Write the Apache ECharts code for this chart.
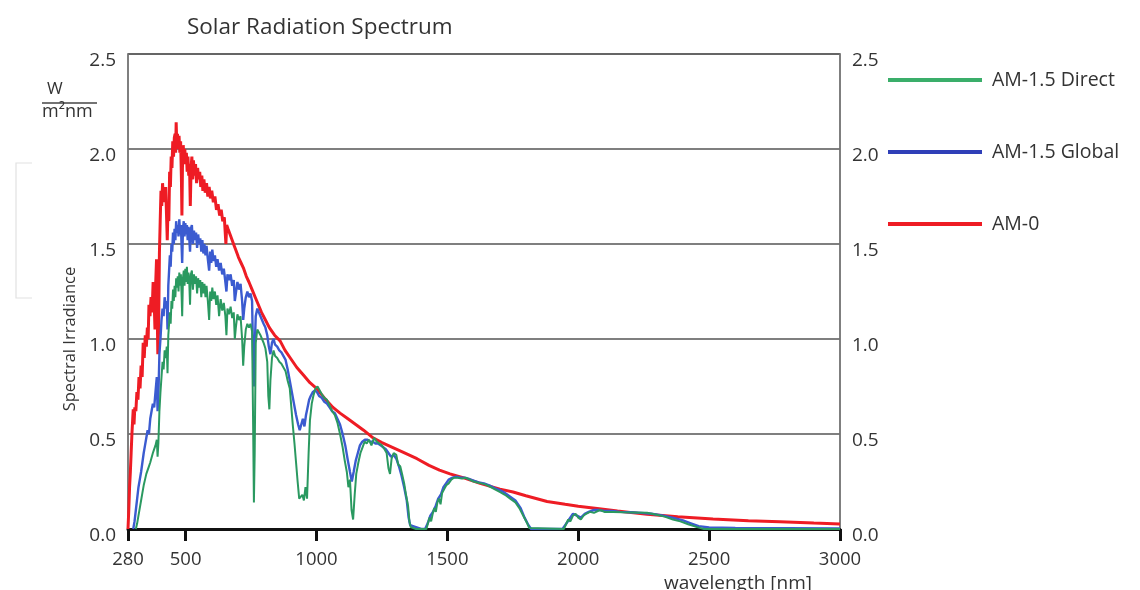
<!DOCTYPE html>
<html>
<head>
<meta charset="utf-8">
<script src="https://cdn.jsdelivr.net/npm/echarts@6/dist/echarts.min.js"></script>
<style>
html,body{margin:0;padding:0;background:#fff;}
#chart{width:1140px;height:590px;}
</style>
</head>
<body>
<div id="chart"></div>
<script>
// ---- data (wavelength nm, spectral irradiance W/m²nm) ----
const xTicks = [280, 500, 1000, 1500, 2000, 2500, 3000];
const seriesNames = ['AM-1.5 Direct', 'AM-1.5 Global', 'AM-0'];

const am0 = [
[280,0.00],[283,0.10],[286,0.22],[289,0.30],[292,0.40],[295,0.50],[298,0.58],[300,0.63],[303,0.55],[306,0.64],
[310,0.62],[314,0.72],[318,0.68],[322,0.80],[326,0.74],[330,0.86],[334,0.80],[338,0.98],[342,0.90],[346,1.02],
[350,0.96],[354,1.06],[357,1.00],[360,1.18],[364,1.12],[368,1.22],[372,1.14],[376,1.30],[380,1.20],[383,1.05],
[386,1.30],[389,1.42],[392,1.10],[394,0.92],[397,1.05],[400,1.45],[403,1.62],[406,1.78],[409,1.70],[412,1.82],
[415,1.74],[418,1.80],[421,1.72],[424,1.80],[427,1.66],[430,1.52],[433,1.70],[436,1.62],[439,1.88],[442,1.80],
[445,1.96],[448,1.90],[451,2.04],[454,1.96],[457,2.06],[460,2.08],[462,1.98],[464,2.14],[466,2.04],[469,2.08],
[472,2.00],[475,2.07],[478,1.98],[481,2.04],[484,1.85],[486,1.65],[488,1.90],[491,2.02],[494,1.94],[497,2.00],
[500,1.92],[503,1.98],[506,1.88],[509,1.96],[512,1.86],[515,1.92],[518,1.70],[521,1.90],[524,1.96],[527,1.84],
[530,1.94],[534,1.86],[538,1.92],[542,1.82],[546,1.90],[550,1.84],[554,1.88],[558,1.80],[562,1.86],[566,1.78],
[570,1.84],[575,1.77],[580,1.82],[585,1.75],[590,1.80],[595,1.74],[600,1.78],[606,1.72],[612,1.75],[618,1.68],
[624,1.71],[630,1.65],[636,1.68],[642,1.62],[648,1.64],[654,1.50],[657,1.60],[662,1.58],[670,1.55],[678,1.52],
[686,1.49],[694,1.46],[702,1.43],[712,1.40],[722,1.37],[732,1.33],[742,1.30],[754,1.26],[766,1.22],[778,1.18],
[790,1.14],[805,1.10],[820,1.06],[840,1.02],[861,0.99],[880,0.94],[900,0.90],[925,0.85],[950,0.81],[975,0.77],
[1000,0.74],[1030,0.69],[1063,0.64],[1090,0.61],[1120,0.58],[1150,0.55],[1180,0.52],[1216,0.48],[1250,0.455],
[1290,0.43],[1330,0.405],[1384,0.37],[1430,0.335],[1470,0.31],[1510,0.29],[1560,0.27],[1625,0.24],[1701,0.21],
[1751,0.195],[1800,0.175],[1881,0.145],[1950,0.13],[2000,0.12],[2072,0.108],[2150,0.095],[2263,0.077],
[2380,0.064],[2515,0.053],[2650,0.044],[2771,0.038],[2900,0.031],[3000,0.026]
];

const am15Global = [
[300,0.00],[305,0.04],[310,0.10],[315,0.16],[320,0.22],[325,0.26],[330,0.30],[335,0.35],[340,0.40],[345,0.44],
[350,0.48],[355,0.52],[360,0.50],[365,0.58],[370,0.62],[375,0.66],[380,0.64],[385,0.72],[390,0.80],[393,0.62],
[396,0.70],[400,0.92],[404,1.00],[408,1.10],[412,1.16],[416,1.12],[420,1.22],[424,1.16],[428,1.20],[431,1.05],
[434,1.28],[437,1.36],[440,1.44],[443,1.38],[446,1.50],[449,1.46],[452,1.56],[455,1.50],[458,1.58],[461,1.52],
[464,1.62],[467,1.56],[470,1.60],[473,1.54],[476,1.63],[479,1.55],[482,1.60],[485,1.48],[487,1.40],[490,1.58],
[493,1.62],[496,1.54],[499,1.61],[502,1.55],[505,1.60],[508,1.52],[511,1.59],[514,1.53],[517,1.46],[520,1.58],
[524,1.60],[528,1.50],[532,1.57],[536,1.52],[540,1.56],[544,1.48],[548,1.55],[552,1.50],[556,1.53],[560,1.46],
[564,1.52],[568,1.45],[572,1.50],[576,1.44],[580,1.49],[585,1.42],[590,1.36],[594,1.46],[598,1.40],[602,1.47],
[607,1.41],[612,1.44],[617,1.38],[622,1.42],[628,1.36],[634,1.40],[640,1.34],[646,1.37],[652,1.30],[656,1.25],
[660,1.34],[666,1.31],[672,1.34],[678,1.28],[684,1.31],[688,1.20],[692,1.24],[698,1.30],[704,1.26],[710,1.29],
[716,1.20],[720,1.10],[724,1.16],[730,1.22],[736,1.25],[742,1.22],[748,1.24],[754,1.20],[758,0.90],[761,0.75],
[764,0.95],[768,1.12],[774,1.16],[780,1.14],[786,1.12],[792,1.10],[798,1.08],[805,1.06],[812,1.02],[818,0.96],
[824,0.92],[830,0.98],[836,1.00],[842,0.97],[850,0.96],[858,0.94],[866,0.93],[874,0.91],[882,0.89],[890,0.84],
[898,0.78],[906,0.72],[914,0.66],[922,0.60],[930,0.55],[936,0.52],[942,0.55],[948,0.58],[954,0.54],[960,0.60],
[966,0.64],[972,0.68],[978,0.70],[986,0.72],[994,0.73],[1002,0.72],[1010,0.70],[1020,0.69],[1030,0.67],[1040,0.66],
[1050,0.64],[1060,0.62],[1070,0.61],[1080,0.58],[1090,0.55],[1100,0.50],[1110,0.44],[1120,0.36],[1128,0.30],
[1135,0.25],[1142,0.30],[1150,0.36],[1158,0.40],[1166,0.44],[1175,0.46],[1185,0.47],[1195,0.47],[1205,0.46],
[1215,0.46],[1225,0.45],[1235,0.45],[1245,0.44],[1255,0.43],[1265,0.42],[1275,0.40],[1285,0.38],[1295,0.39],
[1305,0.37],[1315,0.33],[1325,0.28],[1335,0.22],[1345,0.15],[1352,0.06],[1358,0.02],[1365,0.01],[1380,0.01],
[1400,0.00],[1415,0.00],[1425,0.03],[1435,0.07],[1445,0.09],[1455,0.12],[1465,0.16],[1475,0.18],[1485,0.22],
[1495,0.24],[1505,0.26],[1520,0.27],[1535,0.275],[1550,0.27],[1565,0.27],[1580,0.265],[1600,0.255],[1620,0.245],
[1640,0.24],[1660,0.23],[1680,0.215],[1700,0.205],[1720,0.19],[1740,0.17],[1760,0.15],[1780,0.11],[1795,0.06],
[1810,0.02],[1820,0.00],[1940,0.00],[1950,0.02],[1965,0.05],[1980,0.08],[1995,0.07],[2010,0.06],[2025,0.08],
[2040,0.09],[2060,0.10],[2080,0.10],[2100,0.095],[2130,0.095],[2160,0.09],[2200,0.088],[2240,0.085],[2280,0.08],
[2320,0.072],[2360,0.06],[2400,0.045],[2430,0.03],[2460,0.015],[2500,0.008],[2600,0.005],[2800,0.004],[3000,0.003]
];

const am15Direct = [
[310,0.00],[315,0.03],[320,0.07],[325,0.11],[330,0.15],[335,0.19],[340,0.23],[345,0.26],[350,0.29],[355,0.31],
[360,0.33],[365,0.35],[370,0.36],[375,0.40],[380,0.42],[385,0.44],[390,0.47],[393,0.38],[396,0.45],[400,0.62],
[404,0.72],[408,0.80],[412,0.88],[416,0.84],[420,0.94],[424,0.90],[428,0.96],[431,0.82],[434,1.02],[437,1.08],
[440,1.14],[443,1.08],[446,1.20],[449,1.16],[452,1.26],[455,1.20],[458,1.28],[461,1.22],[464,1.32],[467,1.27],
[470,1.33],[473,1.25],[476,1.35],[479,1.28],[482,1.34],[485,1.22],[487,1.12],[490,1.32],[493,1.36],[496,1.28],
[499,1.37],[502,1.30],[505,1.38],[508,1.29],[511,1.35],[514,1.30],[517,1.18],[520,1.34],[524,1.36],[528,1.26],
[532,1.34],[536,1.29],[540,1.33],[544,1.24],[548,1.32],[552,1.27],[556,1.31],[560,1.22],[564,1.30],[568,1.24],
[572,1.29],[576,1.22],[580,1.28],[585,1.20],[590,1.10],[594,1.25],[598,1.20],[602,1.27],[607,1.21],[612,1.25],
[617,1.18],[622,1.23],[628,1.12],[634,1.21],[640,1.15],[646,1.19],[652,1.12],[656,1.02],[660,1.16],[666,1.13],
[672,1.17],[678,1.11],[684,1.14],[688,1.00],[692,1.06],[698,1.13],[704,1.10],[710,1.12],[716,1.00],[720,0.86],
[724,0.96],[730,1.05],[736,1.08],[742,1.06],[748,1.08],[754,1.04],[758,0.55],[761,0.14],[764,0.40],[768,0.98],
[774,1.05],[780,1.04],[786,1.02],[792,1.00],[798,0.98],[805,0.95],[812,0.88],[816,0.70],[820,0.63],[824,0.78],
[830,0.90],[836,0.94],[842,0.91],[850,0.90],[858,0.88],[866,0.87],[874,0.85],[882,0.83],[890,0.78],[898,0.74],
[904,0.64],[910,0.54],[916,0.45],[922,0.35],[928,0.25],[934,0.16],[940,0.15],[946,0.18],[952,0.15],[958,0.22],
[964,0.16],[970,0.40],[975,0.57],[982,0.66],[988,0.70],[996,0.74],[1004,0.75],[1012,0.73],[1020,0.71],[1030,0.69],
[1040,0.68],[1050,0.65],[1060,0.62],[1070,0.60],[1080,0.56],[1090,0.50],[1100,0.43],[1108,0.36],[1116,0.30],
[1122,0.22],[1128,0.26],[1134,0.10],[1140,0.05],[1146,0.18],[1152,0.29],[1160,0.35],[1168,0.40],[1176,0.43],
[1184,0.46],[1192,0.45],[1200,0.47],[1210,0.44],[1220,0.48],[1230,0.46],[1240,0.45],[1250,0.44],[1260,0.42],
[1268,0.40],[1275,0.32],[1281,0.29],[1287,0.37],[1295,0.40],[1305,0.39],[1312,0.34],[1320,0.33],[1327,0.29],
[1335,0.24],[1342,0.18],[1350,0.12],[1355,0.04],[1360,0.01],[1380,0.00],[1420,0.00],[1426,0.03],[1432,0.06],
[1438,0.04],[1444,0.08],[1450,0.11],[1456,0.09],[1462,0.14],[1468,0.16],[1474,0.13],[1480,0.19],[1488,0.21],
[1496,0.23],[1505,0.24],[1515,0.26],[1525,0.27],[1540,0.27],[1555,0.265],[1570,0.27],[1585,0.26],[1600,0.25],
[1615,0.245],[1630,0.24],[1645,0.235],[1660,0.225],[1680,0.21],[1700,0.195],[1720,0.18],[1740,0.16],[1760,0.14],
[1775,0.11],[1790,0.07],[1805,0.03],[1813,0.005],[1820,0.00],[1945,0.00],[1955,0.03],[1962,0.05],[1970,0.04],
[1980,0.07],[1990,0.08],[2000,0.06],[2010,0.05],[2020,0.07],[2030,0.08],[2045,0.09],[2060,0.085],[2083,0.10],
[2100,0.09],[2133,0.09],[2170,0.088],[2210,0.087],[2263,0.085],[2300,0.075],[2330,0.065],[2362,0.05],[2390,0.04],
[2420,0.025],[2454,0.01],[2480,0.00],[3000,0.00]
];

const FONT = '"Open Sans", "Noto Sans", sans-serif';
const chart = echarts.init(document.getElementById('chart'), null, {renderer: 'canvas'});

const yLabel = {
  formatter: v => v.toFixed(1),
  fontSize: 19, color: '#333', fontFamily: FONT,
  verticalAlign: 'top', lineHeight: 14, margin: 12
};

chart.setOption({
  animation: false,
  backgroundColor: '#fff',
  title: {
    text: 'Solar Radiation Spectrum',
    left: 182, top: 11,
    textStyle: {fontSize: 22.5, fontWeight: 'normal', color: '#333', fontFamily: FONT}
  },
  legend: {
    data: seriesNames,
    orient: 'vertical',
    left: 888, top: 70,
    padding: 0,
    itemWidth: 94, itemHeight: 4, itemGap: 52,
    icon: 'rect',
    textStyle: {fontSize: 19.5, color: '#333', fontFamily: FONT, padding: [0, 0, 0, 5]}
  },
  grid: {
    left: 128, right: 300, top: 54, bottom: 61,
    show: true, borderColor: '#777', borderWidth: 1.5, backgroundColor: 'transparent'
  },
  xAxis: {
    type: 'value', min: 280, max: 3000,
    axisLine: {show: true, lineStyle: {color: '#111', width: 3}},
    axisTick: {show: true, length: 12, customValues: xTicks, lineStyle: {color: '#111', width: 3}},
    axisLabel: {customValues: xTicks, formatter: v => String(v), fontSize: 18.5, color: '#333', fontFamily: FONT, margin: 21},
    splitLine: {show: false}
  },
  yAxis: [
    {
      type: 'value', min: 0, max: 2.5, interval: 0.5, position: 'left',
      axisLine: {show: true, lineStyle: {color: '#777', width: 1.5}},
      axisTick: {show: false},
      axisLabel: yLabel,
      splitLine: {show: true, lineStyle: {color: '#555', width: 1.5}}
    },
    {
      type: 'value', min: 0, max: 2.5, interval: 0.5, position: 'right',
      axisLine: {show: true, lineStyle: {color: '#777', width: 1.5}},
      axisTick: {show: false},
      axisLabel: yLabel,
      splitLine: {show: false}
    }
  ],
  graphic: [
    {type: 'text', left: 47, top: 81, style: {text: 'W', fontSize: 17, fill: '#333', fontFamily: FONT}},
    {type: 'line', shape: {x1: 42, y1: 103, x2: 97, y2: 103}, style: {stroke: '#444', lineWidth: 1.5}},
    {type: 'text', left: 42, top: 103, style: {text: 'm²nm', fontSize: 18, fill: '#333', fontFamily: FONT}},
    {type: 'text', x: 70, y: 339, rotation: Math.PI / 2, style: {text: 'Spectral Irradiance', fontSize: 16.5, fill: '#333', fontFamily: FONT, align: 'center', verticalAlign: 'middle'}},
    {type: 'text', x: 738, y: 584, style: {text: 'wavelength [nm]', fontSize: 19, fill: '#333', fontFamily: FONT, align: 'center', verticalAlign: 'middle'}},
    {type: 'polyline', shape: {points: [[32, 163], [16, 163], [16, 298], [32, 298]]}, style: {stroke: '#e2e2e2', lineWidth: 1.2, fill: null}}
  ],
  series: [
    {name: 'AM-0', type: 'line', data: am0, showSymbol: false, z: 2,
     color: '#ee1c24', lineStyle: {width: 3, color: '#ee1c24'}},
    {name: 'AM-1.5 Global', type: 'line', data: am15Global, showSymbol: false, z: 3,
     color: '#2f3fb8', lineStyle: {width: 2.4, color: '#3b5bd0'}},
    {name: 'AM-1.5 Direct', type: 'line', data: am15Direct, showSymbol: false, z: 4,
     color: '#3aae6a', lineStyle: {width: 2, color: '#2a9960'}}
  ]
});
</script>
</body>
</html>
